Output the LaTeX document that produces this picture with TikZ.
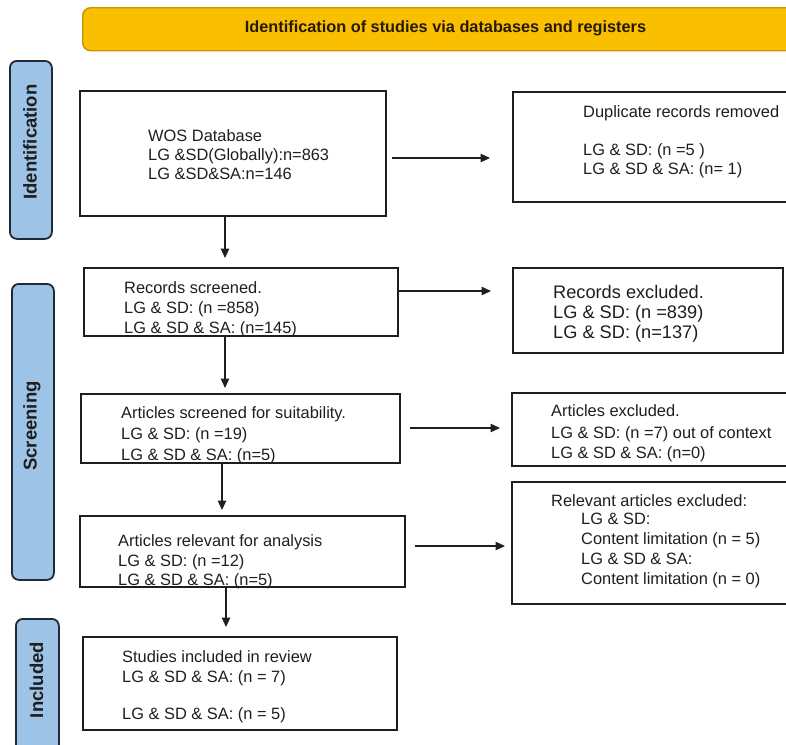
\documentclass[tikz,border=0pt]{standalone}
\usepackage{fontspec}
\setmainfont{Liberation Sans}
\usetikzlibrary{arrows.meta,calc}

\definecolor{bannerfill}{HTML}{FABF00}
\definecolor{bannerline}{HTML}{C99400}
\definecolor{sidefill}{HTML}{9DC3E6}
\definecolor{sideline}{HTML}{1F2A36}
\definecolor{ink}{HTML}{1E1E1E}
\definecolor{bannerink}{HTML}{241A05}

\tikzset{
  box/.style={draw=ink, line width=1.7pt, inner sep=0pt, outer sep=0pt, anchor=north west},
  txt/.style={anchor=base west, inner sep=0pt, text=ink, font=\fontsize{16.4}{19}\selectfont},
  bigtxt/.style={txt, font=\fontsize{18.2}{21}\selectfont},
  arr/.style={draw=ink, line width=1.2pt, -{Triangle[length=9.5pt,width=8.5pt]}},
  side/.style={draw=sideline, fill=sidefill, line width=1.8pt, rounded corners=7pt, inner sep=0pt, anchor=north west},
  sidelabel/.style={rotate=90, inner sep=0pt, text=ink, font=\fontsize{18.5}{20}\selectfont\bfseries},
  banner/.style={draw=bannerline, fill=bannerfill, line width=1.4pt, rounded corners=8pt, inner sep=0pt, anchor=north west},
}

\begin{document}
\begin{tikzpicture}[x=1pt, y=-1pt]
\useasboundingbox (0,0) rectangle (786,744);
\clip (0,0) rectangle (786,744);

% title banner
\node[banner, minimum width=712pt, minimum height=43pt] (ban) at (82,7) {};
\node[inner sep=0pt, text=bannerink, font=\fontsize{16.3}{19}\selectfont\bfseries] (bantxt) at (445.5,28.5)
  {Identification of studies via databases and registers};

% phase bars
\node[side, minimum width=42pt, minimum height=178pt] (sid) at (9,60) {};
\node[sidelabel] (sidtxt) at (30,142) {Identification};
\node[side, minimum width=42pt, minimum height=296pt] (sscr) at (11,283) {};
\node[sidelabel] (sscrtxt) at (32,426) {Screening};
\node[side, minimum width=43pt, minimum height=150pt] (sinc) at (15,618) {};
\node[sidelabel] (sinctxt) at (36.5,680) {Included};

% left column
\node[box, minimum width=306pt, minimum height=125pt] (wos) at (80,91) {};
\node[txt] (wos1) at (148,141) {WOS Database};
\node[txt] (wos2) at (148,160) {LG \&SD(Globally):n=863};
\node[txt] (wos3) at (148,179) {LG \&SD\&SA:n=146};

\node[box, minimum width=314pt, minimum height=68pt] (scr) at (84,268) {};
\node[txt] (scr1) at (124,293) {Records screened.};
\node[txt] (scr2) at (124,313) {LG \& SD: (n =858)};
\node[txt] (scr3) at (124,333) {LG \& SD \& SA: (n=145)};

\node[box, minimum width=319pt, minimum height=69pt] (suit) at (81,394) {};
\node[txt] (suit1) at (121,418) {Articles screened for suitability.};
\node[txt] (suit2) at (121,439) {LG \& SD: (n =19)};
\node[txt] (suit3) at (121,460) {LG \& SD \& SA: (n=5)};

\node[box, minimum width=325pt, minimum height=71pt] (rel) at (80,516) {};
\node[txt] (rel1) at (118,546) {Articles relevant for analysis};
\node[txt] (rel2) at (118,566) {LG \& SD: (n =12)};
\node[txt] (rel3) at (118,585) {LG \& SD \& SA: (n=5)};

\node[box, minimum width=314pt, minimum height=93pt] (inc) at (83,637) {};
\node[txt] (inc1) at (122,662) {Studies included in review};
\node[txt] (inc2) at (122,682) {LG \& SD \& SA: (n = 7)};
\node[txt] (inc3) at (122,719) {LG \& SD \& SA: (n = 5)};

% right column
\node[box, minimum width=276pt, minimum height=110pt] (dup) at (513,92) {};
\node[txt] (dup1) at (583,117) {Duplicate records removed};
\node[txt] (dup2) at (583,155) {LG \& SD: (n =5 )};
\node[txt] (dup3) at (583,174) {LG \& SD \& SA: (n= 1)};

\node[box, minimum width=270pt, minimum height=85pt] (rex) at (513,268) {};
\node[bigtxt] (rex1) at (553,298) {Records excluded.};
\node[bigtxt] (rex2) at (553,318) {LG \& SD: (n =839)};
\node[bigtxt] (rex3) at (553,338) {LG \& SD: (n=137)};

\node[box, minimum width=276pt, minimum height=73pt] (aex) at (512,393) {};
\node[txt] (aex1) at (551,416) {Articles excluded.};
\node[txt] (aex2) at (551,438) {LG \& SD: (n =7) out of context};
\node[txt] (aex3) at (551,458) {LG \& SD \& SA: (n=0)};

\node[box, minimum width=276pt, minimum height=122pt] (rxb) at (512,482) {};
\node[txt] (rx1) at (551,506) {Relevant articles excluded:};
\node[txt] (rx2) at (581,524) {LG \& SD:};
\node[txt] (rx3) at (581,544) {Content limitation (n = 5)};
\node[txt] (rx4) at (581,564) {LG \& SD \& SA:};
\node[txt] (rx5) at (581,584) {Content limitation (n = 0)};

% connectors
\coordinate (a1) at ($(wos.east)+(6,4.5)$);
\draw[arr, shorten >=23pt] (a1) -- (a1 -| dup.west);
\coordinate (a2) at ($(wos.south)+(-8,0)$);
\draw[arr, shorten >=10pt] (a2) -- (a2 |- scr.north);
\coordinate (a3) at ($(scr.east)+(0,-11)$);
\draw[arr, shorten >=22pt] (a3) -- (a3 -| rex.west);
\coordinate (a4) at ($(scr.south)+(-16,0)$);
\draw[arr, shorten >=6pt] (a4) -- (a4 |- suit.north);
\coordinate (a5) at ($(suit.east)+(10,-0.5)$);
\draw[arr, shorten >=12pt] (a5) -- (a5 -| aex.west);
\coordinate (a6) at ($(suit.south)+(-18.5,0)$);
\draw[arr, shorten >=6pt] (a6) -- (a6 |- rel.north);
\coordinate (a7) at ($(rel.east)+(10,-5.5)$);
\draw[arr, shorten >=7pt] (a7) -- (a7 -| rxb.west);
\coordinate (a8) at ($(rel.south)+(-16.5,0)$);
\draw[arr, shorten >=10pt] (a8) -- (a8 |- inc.north);
\end{tikzpicture}
\end{document}
